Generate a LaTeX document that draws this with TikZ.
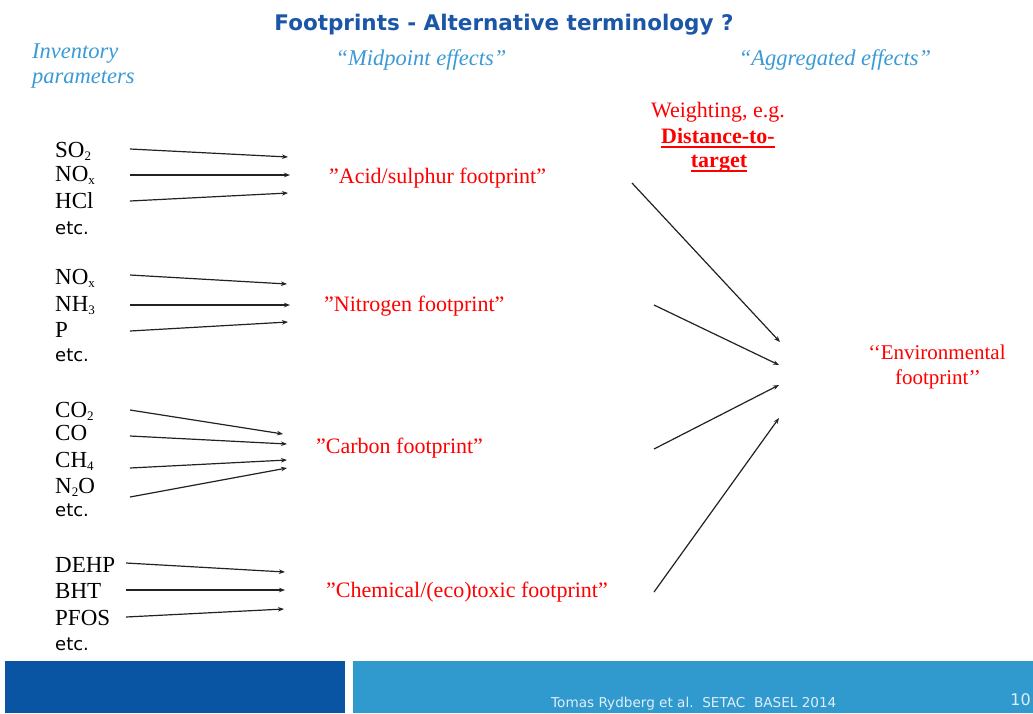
\documentclass[tikz,border=0pt]{standalone}
\usepackage{fontspec}
\setmainfont{Liberation Serif}
\newfontfamily\sansfont{DejaVu Sans}
\usetikzlibrary{arrows.meta}

\definecolor{titleblue}{RGB}{28,86,166}
\definecolor{headblue}{RGB}{58,154,214}
\definecolor{barDark}{RGB}{10,85,163}
\definecolor{barLight}{RGB}{48,153,206}
\definecolor{footText}{RGB}{225,238,248}
\definecolor{effred}{RGB}{255,0,0}
\definecolor{arrowgray}{RGB}{34,34,34}

% chemical subscripts
\newcommand\chsub[1]{\raisebox{-3.5pt}{\fontsize{13}{13}\selectfont #1}}
% bold underline with a fixed rule position
\newcommand\uln[1]{\setbox0\hbox{#1}\rlap{\copy0}\rule[-4.5pt]{\wd0}{1.6pt}}

\tikzset{
  subst/.style={anchor=base west, inner sep=0pt, font=\fontsize{23}{25}\selectfont},
  etcnode/.style={anchor=base west, inner sep=0pt, font=\sansfont\fontsize{18}{20}\selectfont},
  effect/.style={anchor=base west, inner sep=0pt, text=effred, font=\fontsize{22}{24}\selectfont},
  head/.style={inner sep=0pt, text=headblue, font=\itshape\fontsize{22.5}{24}\selectfont},
  flow/.style={draw=arrowgray, line width=1.2pt, -{Stealth[length=6pt,width=4.5pt]}},
  foot/.style={inner sep=0pt, text=footText, font=\sansfont\fontsize{13.6}{15}\selectfont},
}

\begin{document}
\begin{tikzpicture}[x=1pt,y=-1pt]
\useasboundingbox (0,0) rectangle (1033,713);
\fill[white] (0,0) rectangle (1033,713);

% title and column headings
\node[anchor=base, inner sep=0pt, text=titleblue, font=\sansfont\bfseries\fontsize{21.5}{24}\selectfont]
  (title) at (504,30) {Footprints - Alternative terminology ?};
\node[head, anchor=base west] (inv1) at (32,58) {Inventory};
\node[head, anchor=base west] (inv2) at (32,83) {parameters};
\node[head, anchor=base] (mid) at (421,65) {“Midpoint effects”};
\node[head, anchor=base] (agg) at (835,65) {“Aggregated effects”};

% inventory parameters
\node[subst] (so2)  at (55,157) {SO\chsub{2}};
\node[subst] (nox1) at (55,181) {NO\chsub{x}};
\node[subst] (hcl)  at (55,208) {HCl};
\node[etcnode] (etc1) at (55,234) {etc.};

\node[subst] (nox2) at (55,284) {NO\chsub{x}};
\node[subst] (nh3)  at (55,311) {NH\chsub{3}};
\node[subst] (p)    at (55,337) {P};
\node[etcnode] (etc2) at (55,361) {etc.};

\node[subst] (co2)  at (55,417) {CO\chsub{2}};
\node[subst] (co)   at (55,440) {CO};
\node[subst] (ch4)  at (55,467) {CH\chsub{4}};
\node[subst] (n2o)  at (55,493) {N\chsub{2}O};
\node[etcnode] (etc3) at (55,516) {etc.};

\node[subst] (dehp) at (55,572) {DEHP};
\node[subst] (bht)  at (55,598) {BHT};
\node[subst] (pfos) at (55,625) {PFOS};
\node[etcnode] (etc4) at (55,650) {etc.};

% midpoint footprints
\node[effect] (acid)  at (329,183) {"Acid/sulphur footprint"};
\node[effect] (nitro) at (324,311) {"Nitrogen footprint"};
\node[effect] (carb)  at (316,453) {"Carbon footprint"};
\node[effect] (chem)  at (326,597) {"Chemical/(eco)toxic footprint"};

% weighting
\node[effect, anchor=base] (wt)   at (718,117) {Weighting, e.g.};
\node[effect, anchor=base] (dtt1) at (718,143) {\bfseries\uln{Distance-to-}};
\node[effect, anchor=base] (dtt2) at (719,167) {\bfseries\uln{target}};

% aggregated footprint
\node[effect, anchor=base, font=\fontsize{21}{23}\selectfont] (env1) at (937,359) {‘‘Environmental};
\node[effect, anchor=base, font=\fontsize{21}{23}\selectfont] (env2) at (938,384) {footprint’’};

% arrow heads at the midpoint labels
\coordinate (acid-a) at (288,157);
\coordinate (acid-b) at (290,175);
\coordinate (acid-c) at (288,193);
\coordinate (nitro-a) at (287,284);
\coordinate (nitro-b) at (290,305);
\coordinate (nitro-c) at (288,322);
\coordinate (carb-a) at (283,434);
\coordinate (carb-b) at (287,444);
\coordinate (carb-c) at (287,460);
\coordinate (carb-d) at (287,468);
\coordinate (chem-a) at (285,572);
\coordinate (chem-b) at (285,590);
\coordinate (chem-c) at (284,609);

% inventory -> midpoint
\draw[flow] ([shift={(75pt,8pt)}]so2.base west)  -- (acid-a);
\draw[flow] ([shift={(75pt,6pt)}]nox1.base west) -- (acid-b);
\draw[flow] ([shift={(75pt,7pt)}]hcl.base west)  -- (acid-c);
\draw[flow] ([shift={(75pt,9pt)}]nox2.base west) -- (nitro-a);
\draw[flow] ([shift={(75pt,6pt)}]nh3.base west)  -- (nitro-b);
\draw[flow] ([shift={(75pt,6pt)}]p.base west)    -- (nitro-c);
\draw[flow] ([shift={(75pt,7pt)}]co2.base west)  -- (carb-a);
\draw[flow] ([shift={(75pt,4pt)}]co.base west)   -- (carb-b);
\draw[flow] ([shift={(75pt,-1pt)}]ch4.base west) -- (carb-c);
\draw[flow] ([shift={(75pt,-4pt)}]n2o.base west) -- (carb-d);
\draw[flow] ([shift={(71pt,9pt)}]dehp.base west) -- (chem-a);
\draw[flow] ([shift={(71pt,8pt)}]bht.base west)  -- (chem-b);
\draw[flow] ([shift={(71pt,8pt)}]pfos.base west) -- (chem-c);

% midpoint -> aggregated
\coordinate (acid-out)  at (632,183);
\coordinate (nitro-out) at (654,305);
\coordinate (carb-out)  at (654,449);
\coordinate (chem-out)  at (654,592);
\coordinate (env-a) at (780,342);
\coordinate (env-b) at (779,365);
\coordinate (env-c) at (779,385);
\coordinate (env-d) at (779,418);
\draw[flow] (acid-out)  -- (env-a);
\draw[flow] (nitro-out) -- (env-b);
\draw[flow] (carb-out)  -- (env-c);
\draw[flow] (chem-out)  -- (env-d);

% footer bars
\fill[barDark]  (5,661) rectangle (345,713);
\fill[barLight] (353,661) rectangle (1033,713);
\node[foot, anchor=base west] (credit) at (551,707.5) {Tomas Rydberg et al.\ \ SETAC\ \ BASEL 2014};
\node[foot, anchor=base east, font=\sansfont\fontsize{16}{18}\selectfont] (page) at (1031,705) {10};
\end{tikzpicture}
\end{document}
